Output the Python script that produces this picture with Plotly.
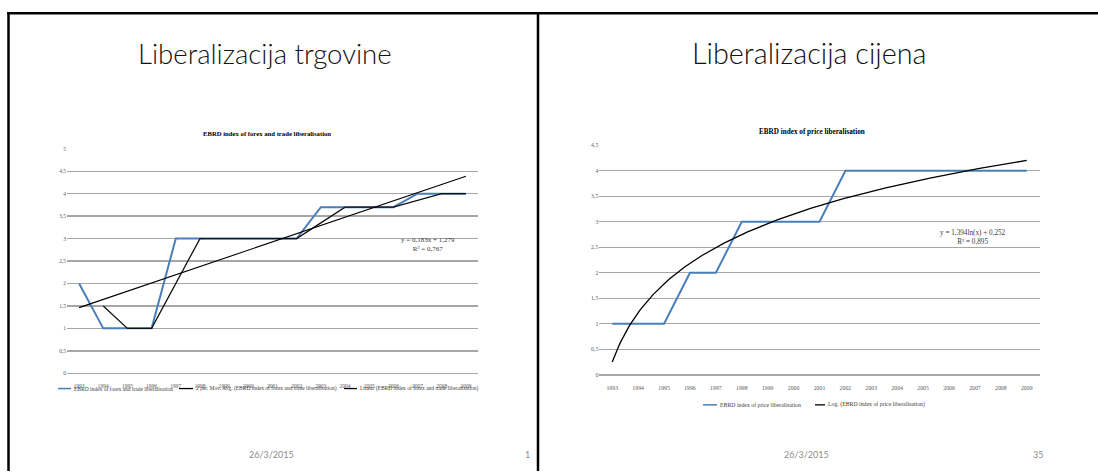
import numpy as np
import pandas as pd
import plotly.graph_objects as go

W, H = 1098, 474

# ---------------- data ----------------
years = list(range(1993, 2010))
year_labels = [str(y) for y in years]
forex_trade = [2, 1, 1, 1, 3, 3, 3, 3, 3, 3, 3.7, 3.7, 3.7, 3.7, 4, 4, 4]
price_lib = [1, 1, 1, 2, 2, 3, 3, 3, 3, 4, 4, 4, 4, 4, 4, 4, 4]
linear_slope, linear_icpt = 0.183, 1.279      # y = 0,183x + 1,279
log_slope, log_icpt = 1.394, 0.252            # y = 1,394ln(x) + 0,252
left_yvals = [0, 0.5, 1, 1.5, 2, 2.5, 3, 3.5, 4, 4.5, 5]
left_ytext = ["0", "0,5", "1", "1,5", "2", "2,5", "3", "3,5", "4", "4,5", "5"]
right_yvals = [0, 0.5, 1, 1.5, 2, 2.5, 3, 3.5, 4, 4.5]
right_ytext = ["0", "0,5", "1", "1,5", "2", "2,5", "3", "3,5", "4", "4,5"]

left_slide_title = "Liberalizacija trgovine"
right_slide_title = "Liberalizacija cijena"
left_chart_title = "EBRD index of forex and trade liberalisation"
right_chart_title = "EBRD index of price liberalisation"
left_legend = ["EBRD index of forex and trade liberalisation",
               "2 per. Mov. Avg. (EBRD index of forex and trade liberalisation)",
               "Linear (EBRD index of forex and trade liberalisation)"]
right_legend = ["EBRD index of price liberalisation",
                "Log. (EBRD index of price liberalisation)"]
left_eq = "y = 0,183x + 1,279<br>R² = 0,767"
right_eq = "y = 1,394ln(x) + 0,252<br>R² = 0,895"
footer_date = "26/3/2015"
page_numbers = ["1", "35"]

# derived series (as the chart defines them)
mov_avg = pd.Series(forex_trade).rolling(2).mean().tolist()[1:]
idx = np.arange(1, len(years) + 1)
lin_y = linear_slope * idx + linear_icpt
t = np.linspace(1, len(years), 300)
log_x = years[0] - 1 + t
log_y = log_slope * np.log(t) + log_icpt

BLUE = "#4a7ebb"
SERIF = "Liberation Serif"
SANS = "Lato"

def PX(x):
    return x / W

def PY(y):
    return 1 - y / H

fig = go.Figure()
# left chart
fig.add_trace(go.Scatter(x=years, y=forex_trade, mode="lines",
                         line=dict(color=BLUE, width=2), xaxis="x", yaxis="y"))
fig.add_trace(go.Scatter(x=years[1:], y=mov_avg, mode="lines",
                         line=dict(color="#111111", width=1.3), xaxis="x", yaxis="y"))
fig.add_trace(go.Scatter(x=years, y=lin_y, mode="lines",
                         line=dict(color="#000000", width=1.1), xaxis="x", yaxis="y"))
# right chart
fig.add_trace(go.Scatter(x=years, y=price_lib, mode="lines",
                         line=dict(color=BLUE, width=2), xaxis="x2", yaxis="y2"))
fig.add_trace(go.Scatter(x=log_x, y=log_y, mode="lines",
                         line=dict(color="#000000", width=1.3), xaxis="x2", yaxis="y2"))

GRID = "#a6a6a6"
TICK = "#595959"

def xax(dom, anchor, size, standoff):
    return dict(domain=dom, anchor=anchor, range=[1992.5, 2009.5], tickmode="array",
                tickvals=years, ticktext=year_labels, showgrid=False, zeroline=False,
                showline=False, ticks="", ticklabelstandoff=standoff,
                tickfont=dict(family=SERIF, size=size, color=TICK), fixedrange=True)

def yax(dom, anchor, rng, vals, text, size):
    return dict(domain=dom, anchor=anchor, range=rng, tickmode="array", tickvals=vals,
                ticktext=text, showgrid=True, gridcolor=GRID, gridwidth=1.4,
                zeroline=True, zerolinecolor=GRID, zerolinewidth=1.4, showline=False,
                ticks="", tickfont=dict(family=SERIF, size=size, color=TICK), fixedrange=True)

fig.update_layout(
    width=W, height=H, autosize=False,
    margin=dict(l=0, r=0, t=0, b=0),
    paper_bgcolor="white", plot_bgcolor="rgba(0,0,0,0)",
    showlegend=False,
    xaxis=xax([PX(67), PX(478)], "y", 5.5, 8),
    yaxis=yax([PY(375), PY(147.7)], "x", [0, 5], left_yvals, left_ytext, 5.5),
    xaxis2=xax([PX(599.3), PX(1039.7)], "y2", 5.8, 8),
    yaxis2=yax([PY(376.6), PY(144)], "x2", [0, 4.5], right_yvals, right_ytext, 5.8),
)

shapes = []
# slide frame
shapes.append(dict(type="line", xref="paper", yref="paper", x0=PX(7), x1=1.0,
                   y0=PY(10.5), y1=PY(10.5), line=dict(color="black", width=2.5)))
shapes.append(dict(type="line", xref="paper", yref="paper", x0=PX(8.5), x1=PX(8.5),
                   y0=PY(9.5), y1=0, line=dict(color="black", width=2.5)))
shapes.append(dict(type="line", xref="paper", yref="paper", x0=PX(538), x1=PX(538),
                   y0=PY(9.5), y1=0, line=dict(color="black", width=2.5)))

ann = []
def text(x, y, s, size, family=SERIF, color="black", xanchor="center", yanchor="middle",
         align="center", weight=None):
    f = dict(family=family, size=size, color=color)
    if weight is not None:
        f["weight"] = weight
    ann.append(dict(x=PX(x), y=PY(y), xref="paper", yref="paper", text=s, showarrow=False,
                    font=f, xanchor=xanchor, yanchor=yanchor, align=align))

# slide titles
text(265, 51, left_slide_title, 27.6, family=SANS, color="#111111", weight=300)
text(809, 51, right_slide_title, 28.8, family=SANS, color="#111111", weight=300)
# chart titles
text(267, 132, "<b>%s</b>" % left_chart_title, 6.7)
text(812, 131, "<b>%s</b>" % right_chart_title, 7.2)
# trend equations
text(428, 245, left_eq, 7, color="#404040")
text(973, 238, right_eq, 7.2, color="#404040")

# legends (manual)
def legend_item(x0, x1, y, color, width, label, size):
    shapes.append(dict(type="line", xref="paper", yref="paper", x0=PX(x0), x1=PX(x1),
                       y0=PY(y), y1=PY(y), line=dict(color=color, width=width)))
    text(x1 + 0.5, y, label, size, color="#404040", xanchor="left")

legend_item(58, 71, 390.5, BLUE, 1.5, left_legend[0], 5.5)
legend_item(179, 193, 390.5, "black", 1.3, left_legend[1], 5.5)
legend_item(344, 357, 390.5, "black", 1.3, left_legend[2], 5.5)
legend_item(703, 717, 407, BLUE, 1.5, right_legend[0], 5.8)
legend_item(815, 825, 407, "black", 1.3, right_legend[1], 5.8)

# footers
text(271, 457, footer_date, 9, family=SANS, color="#8c8c8c")
text(527, 457, page_numbers[0], 9, family=SANS, color="#8c8c8c")
text(806, 457, footer_date, 9, family=SANS, color="#8c8c8c")
text(1038, 457, page_numbers[1], 9, family=SANS, color="#8c8c8c")

fig.update_layout(shapes=shapes, annotations=ann)
fig.write_html("out.html", config={"displayModeBar": False, "staticPlot": True},
               post_script="document.body.style.margin='0';")
